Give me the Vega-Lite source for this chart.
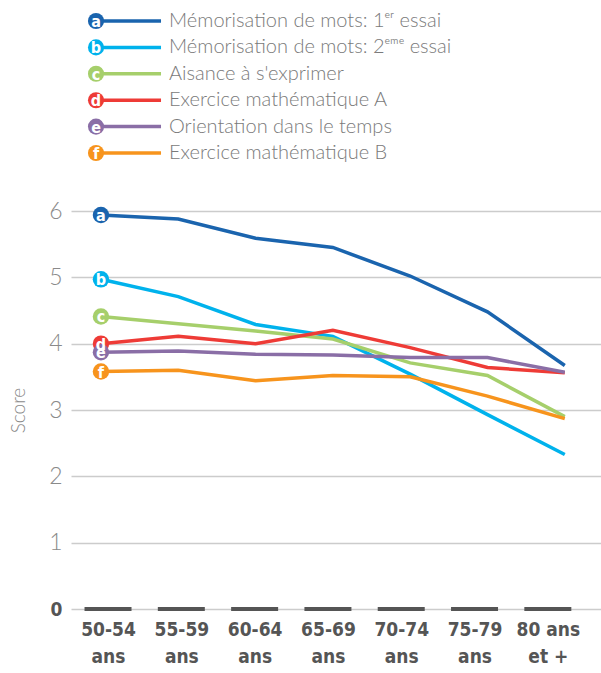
{
  "$schema": "https://vega.github.io/schema/vega-lite/v6.json",
  "padding": {"left": 9, "top": 6, "right": 0, "bottom": 4},
  "bounds": "flush",
  "spacing": 43,
  "config": {"view": {"stroke": null}, "font": "Lato"},
  "datasets": {
    "series": [
      {"letter": "a", "label": "Mémorisation de mots: 1ᵉʳ essai"},
      {"letter": "b", "label": "Mémorisation de mots: 2ᵉᵐᵉ essai"},
      {"letter": "c", "label": "Aisance à s'exprimer"},
      {"letter": "d", "label": "Exercice mathématique A"},
      {"letter": "e", "label": "Orientation dans le temps"},
      {"letter": "f", "label": "Exercice mathématique B"}
    ],
    "ages": [
      {"age": "50-54 ans"}, {"age": "55-59 ans"}, {"age": "60-64 ans"}, {"age": "65-69 ans"},
      {"age": "70-74 ans"}, {"age": "75-79 ans"}, {"age": "80 ans et +"}
    ],
    "scores": [
      {"letter": "a", "age": "50-54 ans", "score": 5.94},
      {"letter": "a", "age": "55-59 ans", "score": 5.88},
      {"letter": "a", "age": "60-64 ans", "score": 5.59},
      {"letter": "a", "age": "65-69 ans", "score": 5.45},
      {"letter": "a", "age": "70-74 ans", "score": 5.02},
      {"letter": "a", "age": "75-79 ans", "score": 4.48},
      {"letter": "a", "age": "80 ans et +", "score": 3.67},
      {"letter": "b", "age": "50-54 ans", "score": 4.97},
      {"letter": "b", "age": "55-59 ans", "score": 4.71},
      {"letter": "b", "age": "60-64 ans", "score": 4.29},
      {"letter": "b", "age": "65-69 ans", "score": 4.11},
      {"letter": "b", "age": "70-74 ans", "score": 3.54},
      {"letter": "b", "age": "75-79 ans", "score": 2.93},
      {"letter": "b", "age": "80 ans et +", "score": 2.33},
      {"letter": "c", "age": "50-54 ans", "score": 4.41},
      {"letter": "c", "age": "55-59 ans", "score": 4.30},
      {"letter": "c", "age": "60-64 ans", "score": 4.19},
      {"letter": "c", "age": "65-69 ans", "score": 4.07},
      {"letter": "c", "age": "70-74 ans", "score": 3.71},
      {"letter": "c", "age": "75-79 ans", "score": 3.52},
      {"letter": "c", "age": "80 ans et +", "score": 2.90},
      {"letter": "d", "age": "50-54 ans", "score": 4.00},
      {"letter": "d", "age": "55-59 ans", "score": 4.11},
      {"letter": "d", "age": "60-64 ans", "score": 4.00},
      {"letter": "d", "age": "65-69 ans", "score": 4.20},
      {"letter": "d", "age": "70-74 ans", "score": 3.94},
      {"letter": "d", "age": "75-79 ans", "score": 3.64},
      {"letter": "d", "age": "80 ans et +", "score": 3.56},
      {"letter": "e", "age": "50-54 ans", "score": 3.87},
      {"letter": "e", "age": "55-59 ans", "score": 3.89},
      {"letter": "e", "age": "60-64 ans", "score": 3.84},
      {"letter": "e", "age": "65-69 ans", "score": 3.83},
      {"letter": "e", "age": "70-74 ans", "score": 3.79},
      {"letter": "e", "age": "75-79 ans", "score": 3.79},
      {"letter": "e", "age": "80 ans et +", "score": 3.57},
      {"letter": "f", "age": "50-54 ans", "score": 3.58},
      {"letter": "f", "age": "55-59 ans", "score": 3.60},
      {"letter": "f", "age": "60-64 ans", "score": 3.44},
      {"letter": "f", "age": "65-69 ans", "score": 3.52},
      {"letter": "f", "age": "70-74 ans", "score": 3.50},
      {"letter": "f", "age": "75-79 ans", "score": 3.21},
      {"letter": "f", "age": "80 ans et +", "score": 2.87}
    ]
  },
  "vconcat": [
    {
      "width": 531,
      "height": 162,
      "data": {"name": "series"},
      "encoding": {
        "y": {"field": "letter", "type": "nominal", "scale": {"type": "point", "padding": 0.57}, "axis": null}
      },
      "layer": [
        {
          "mark": {"type": "rule", "strokeWidth": 3.5},
          "encoding": {
            "x": {"datum": 0, "type": "quantitative", "scale": {"domain": [-0.385, 7.785], "nice": false, "zero": false}, "axis": null},
            "x2": {"datum": 1},
            "color": {"field": "letter", "type": "nominal", "legend": null,
              "scale": {"domain": ["a", "b", "c", "d", "e", "f"], "range": ["#1a64ae", "#00b2ec", "#a6cf6b", "#ee3b36", "#8a6ea6", "#f7941d"]}}
          }
        },
        {
          "mark": {"type": "circle", "size": 260, "opacity": 1},
          "encoding": {
            "x": {"datum": 0, "type": "quantitative"},
            "color": {"field": "letter", "type": "nominal", "legend": null}
          }
        },
        {
          "mark": {"type": "text", "color": "white", "font": "DejaVu Sans Condensed", "fontWeight": "bold", "fontSize": 16, "baseline": "middle", "align": "center", "dy": 1},
          "encoding": {
            "x": {"datum": 0, "type": "quantitative"},
            "text": {"field": "letter"}
          }
        },
        {
          "mark": {"type": "text", "align": "left", "baseline": "middle", "dx": 8, "font": "Lato", "fontWeight": 300, "fontSize": 20, "color": "#7a7a7a"},
          "encoding": {
            "x": {"datum": 1, "type": "quantitative"},
            "text": {"field": "label"}
          }
        }
      ]
    },
    {
      "width": 531,
      "height": 398,
      "layer": [
        {
          "data": {"name": "ages"},
          "mark": {"type": "tick", "orient": "horizontal", "size": 47, "thickness": 4, "color": "#555555", "opacity": 1},
          "encoding": {
            "x": {"field": "age", "type": "nominal", "sort": null,
              "scale": {"type": "point", "padding": 0.622, "align": 0.406},
              "axis": {"title": null, "orient": "bottom", "domain": false, "ticks": false, "labelAngle": 0,
                "labelExpr": "datum.label == '80 ans et +' ? ['80 ans', 'et +'] : split(datum.label, ' ')",
                "labelFont": "DejaVu Sans Condensed", "labelFontWeight": "bold",
                "labelFontSize": 19, "labelColor": "#555555", "labelPadding": 11, "labelLineHeight": 27}},
            "y": {"datum": 0, "type": "quantitative"}
          }
        },
        {
          "data": {"name": "scores"},
          "encoding": {
            "x": {"field": "age", "type": "nominal", "sort": null,
              "scale": {"type": "point", "padding": 0.4345, "align": 0.446,
                "domain": ["50-54 ans", "55-59 ans", "60-64 ans", "65-69 ans", "70-74 ans", "75-79 ans", "80 ans et +"]}, "axis": null},
            "y": {"field": "score", "type": "quantitative", "scale": {"domain": [0, 6]},
              "axis": {"title": "Score", "values": [0, 1, 2, 3, 4, 5, 6], "format": "d", "grid": true, "domain": false, "ticks": false,
                "gridColor": "#cccccc", "gridWidth": 1.5,
                "labelFont": {"condition": {"test": "datum.value === 0", "value": "DejaVu Sans Condensed"}, "value": "Lato"},
                "labelFontWeight": {"condition": {"test": "datum.value === 0", "value": "bold"}, "value": 300},
                "labelColor": {"condition": {"test": "datum.value === 0", "value": "#555555"}, "value": "#8a8a8a"},
                "labelFontSize": {"condition": {"test": "datum.value === 0", "value": 19}, "value": 23}, "labelPadding": 9,
                "titleFont": "Lato", "titleFontWeight": 300, "titleFontSize": 19, "titleColor": "#8a8a8a", "titlePadding": 20}},
            "color": {"field": "letter", "type": "nominal", "legend": null,
              "scale": {"domain": ["a", "b", "c", "d", "e", "f"], "range": ["#1a64ae", "#00b2ec", "#a6cf6b", "#ee3b36", "#8a6ea6", "#f7941d"]}}
          },
          "layer": [
            {"mark": {"type": "line", "strokeWidth": 3.5}},
            {
              "transform": [{"filter": "datum.age == '50-54 ans'"}],
              "mark": {"type": "circle", "size": 270, "opacity": 1}
            },
            {
              "transform": [{"filter": "datum.age == '50-54 ans'"}],
              "mark": {"type": "text", "color": "white", "font": "DejaVu Sans Condensed", "fontWeight": "bold", "fontSize": 16, "baseline": "middle", "align": "center", "dy": 1},
              "encoding": {"text": {"field": "letter"}, "color": {"value": "white"}}
            }
          ]
        }
      ],
      "resolve": {"scale": {"x": "independent"}}
    }
  ]
}
